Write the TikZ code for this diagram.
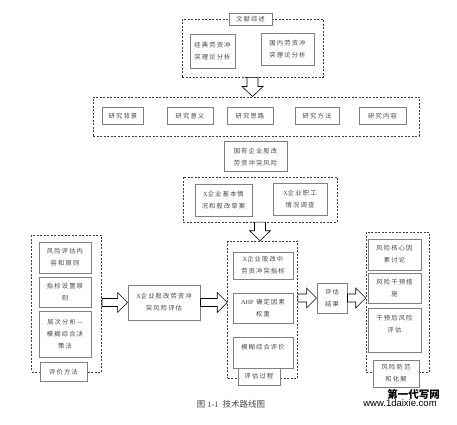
\documentclass[tikz,border=0pt]{standalone}
\usepackage{fontspec}
\setmainfont{Liberation Serif}
\newfontfamily\cjk[LetterSpace=18]{Noto Sans CJK SC}
\newfontfamily\cjkcap{Noto Sans CJK SC}
\newfontfamily\wmsans{Liberation Sans}
\usepackage{tikz}
\usetikzlibrary{calc}
\definecolor{boxgray}{RGB}{128, 128, 128}
\definecolor{dashgray}{RGB}{60, 60, 60}
\definecolor{txtgray}{RGB}{70, 70, 70}
\tikzset{>=latex}
\tikzset{
  txtbox/.style = {draw = boxgray, line width = 0.9pt, fill = white, text = txtgray, inner sep = 0pt, align = center, font = \cjk\fontsize{6.3}{12}\selectfont},
  dashbox/.style = {draw = dashgray, line width = 0.6pt, dash pattern = on 2pt off 1.5pt},
  blockarrow/.style = {draw = black, line width = 0.6pt, fill = white, line join = miter}
}
\newcommand{\lat}[1]{{\rmfamily #1}}
\newcommand{\downblock}[2]{%
  \draw[blockarrow] let \p1 = (#1), \p2 = (#2) in
    (\x1-5.5pt,\y1) -- (\x1-5.5pt,\y2+10pt) -- (\x1-10.5pt,\y2+10pt) -- (\x1,\y2)
    -- (\x1+10.5pt,\y2+10pt) -- (\x1+5.5pt,\y2+10pt) -- (\x1+5.5pt,\y1) -- cycle;}
\newcommand{\rightblock}[2]{%
  \draw[blockarrow] let \p1 = (#1), \p2 = (#2) in
    (\x1,\y1+4pt) -- (\x2-10pt,\y1+4pt) -- (\x2-10pt,\y1+10pt) -- (\x2,\y1)
    -- (\x2-10pt,\y1-10pt) -- (\x2-10pt,\y1-4pt) -- (\x1,\y1-4pt) -- cycle;}

\begin{document}
\begin{tikzpicture}[x = 1pt, y = -1pt]
\useasboundingbox (0,0) rectangle (457,424);
\node[dashbox, minimum width = 141pt, minimum height = 58pt] (litbox) at (252.5,48) {};
\node[txtbox, minimum width = 43pt, minimum height = 12pt] (littitle) at (250.5,19) {文献综述};
\node[txtbox, minimum width = 45pt, minimum height = 34pt] (lit1) at (212.5,51) {经典劳资冲\\突理论分析};
\node[txtbox, minimum width = 53pt, minimum height = 32pt] (lit2) at (287.5,49) {国内劳资冲\\突理论分析};
\node[dashbox, minimum width = 326pt, minimum height = 39pt] (resbox) at (256,116.3) {};
\node[txtbox, minimum width = 41pt, minimum height = 17pt] (res1) at (123,116) {研究背景};
\node[txtbox, minimum width = 46pt, minimum height = 17pt] (res2) at (190,116) {研究意义};
\node[txtbox, minimum width = 46pt, minimum height = 17pt] (res3) at (250,116) {研究思路};
\node[txtbox, minimum width = 44pt, minimum height = 17pt] (res4) at (317,116) {研究方法};
\node[txtbox, minimum width = 47pt, minimum height = 17pt] (res5) at (382.5,116) {研究内容};
\downblock{litbox.south}{resbox.north};
\node[txtbox, minimum width = 63pt, minimum height = 30pt] (risk) at (255.5,156.7) {国有企业股改\\劳资冲突风险};
\node[dashbox, minimum width = 154pt, minimum height = 45pt] (casebox) at (260,199.3) {};
\node[txtbox, minimum width = 57pt, minimum height = 32pt] (case1) at (223.5,200) {\lat{X}企业基本情\\况和股改草案};
\node[txtbox, minimum width = 54pt, minimum height = 32pt] (case2) at (300,199) {\lat{X}企业职工\\情况调查};
\node[dashbox, minimum width = 70pt, minimum height = 136.5pt] (methbox) at (66.7,303.7) {};
\node[txtbox, minimum width = 52pt, minimum height = 31pt] (meth1) at (65,257.5) {风险评估内\\容和原则};
\node[txtbox, minimum width = 52pt, minimum height = 30pt] (meth2) at (65,292.3) {指标设置原\\则};
\node[txtbox, minimum width = 52pt, minimum height = 46pt] (meth3) at (65,334) {层次分析—\\模糊综合决\\策法};
\node[txtbox, minimum width = 47pt, minimum height = 19pt] (methtitle) at (63.5,372) {评价方法};
\node[txtbox, minimum width = 72pt, minimum height = 35pt] (center) at (164,302.5) {\lat{X}企业股改劳资冲\\突风险评估};
\node[dashbox, minimum width = 70pt, minimum height = 137pt] (procbox) at (262.5,309.5) {};
\node[txtbox, minimum width = 60pt, minimum height = 27pt] (proc1) at (263,265.5) {\lat{X}企业股改中\\劳资冲突指标};
\node[txtbox, minimum width = 60pt, minimum height = 30pt] (proc2) at (263,308) {\lat{AHP} 确定因素\\权重};
\node[txtbox, minimum width = 60pt, minimum height = 31pt] (proc3) at (263,352.5) {模糊综合评价\\\mbox{}};
\node[txtbox, minimum width = 42pt, minimum height = 17pt] (proctitle) at (259,376.5) {评估过程};
\downblock{casebox.south}{procbox.north};
\node[txtbox, minimum width = 30pt, minimum height = 30pt] (result) at (332,298) {评估\\结果};
\node[dashbox, minimum width = 63pt, minimum height = 140pt] (ctrlbox) at (397.5,302) {};
\node[txtbox, minimum width = 53pt, minimum height = 31pt] (ctrl1) at (394.5,254.5) {风险核心因\\素讨论};
\node[txtbox, minimum width = 53pt, minimum height = 30pt] (ctrl2) at (394.5,288) {风险干预措\\施};
\node[txtbox, minimum width = 53pt, minimum height = 44pt] (ctrl3) at (394.5,330) {干预后风险\\评估\\\mbox{}};
\node[txtbox, minimum width = 46pt, minimum height = 27pt] (ctrltitle) at (396,373.5) {风险防范\\和化解};
\rightblock{methbox.east |- center.west}{center.west};
\rightblock{center.east}{procbox.west |- center.east};
\rightblock{procbox.east |- result.west}{result.west};
\rightblock{result.east}{ctrlbox.west |- result.east};
\node[font = \cjkcap\fontsize{8.5}{10}\selectfont, text = txtgray] (caption) at (231,404.5) {图 \lat{1-1}\ \ 技术路线图};
\node[font = \cjkcap\bfseries\fontsize{10.5}{12}\selectfont, inner sep = 0pt] (wmark) at (413.5,394.5) {第一代写网};
\node[font = \wmsans\fontsize{9.5}{11}\selectfont, inner sep = 0pt] (wmurl) at (400,403.5) {www.1daixie.com};
\end{tikzpicture}
\end{document}
